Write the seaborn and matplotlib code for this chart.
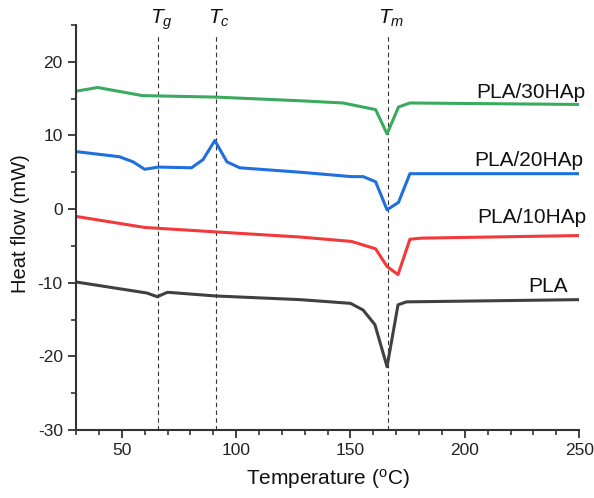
import numpy as np
import pandas as pd
import matplotlib
matplotlib.use("Agg")
import matplotlib.pyplot as plt
import seaborn as sns

# ---- data ----
pla_x = [30, 61, 65.5, 70, 91, 128, 150, 155.5, 160.7, 166, 170.8, 174.5, 200, 250]
pla_y = [-9.9, -11.4, -11.9, -11.3, -11.8, -12.3, -12.8, -13.7, -15.7, -21.4, -13.0, -12.6, -12.5, -12.3]

p10_x = [30, 60, 91, 128, 150.5, 161, 166, 170.8, 176, 181, 250]
p10_y = [-1.0, -2.5, -3.1, -3.8, -4.4, -5.4, -7.8, -8.9, -4.1, -3.95, -3.6]

p20_x = [30, 49, 55, 60, 66, 80.5, 85.5, 90.7, 96, 101.6, 128, 150.5, 155.6, 161, 166, 171, 176, 250]
p20_y = [7.8, 7.1, 6.4, 5.4, 5.7, 5.6, 6.7, 9.3, 6.4, 5.6, 5.0, 4.4, 4.4, 3.7, -0.1, 0.9, 4.8, 4.8]

p30_x = [30, 39.5, 59, 91, 128, 146.7, 161, 166, 171, 176, 250]
p30_y = [16.0, 16.5, 15.4, 15.2, 14.7, 14.4, 13.5, 10.2, 13.85, 14.4, 14.2]

series_names = ["PLA", "PLA/10HAp", "PLA/20HAp", "PLA/30HAp"]
series_colors = ["#404040", "#f2393c", "#1f6fde", "#3aaa5e"]
label_pos = [(245.0, -11.2), (253.0, -1.9), (251.7, 5.87), (252.8, 15.07)]

transitions = [66, 91, 166.5]
transition_labels = ["$T_g$", "$T_c$", "$T_m$"]

frames = []
for name, xs, ys in zip(series_names, [pla_x, p10_x, p20_x, p30_x], [pla_y, p10_y, p20_y, p30_y]):
    frames.append(pd.DataFrame({"Temperature": xs, "Heat": ys, "Sample": name}))
df = pd.concat(frames, ignore_index=True)

# ---- style ----
sns.set_theme(style="ticks")
plt.rcParams["font.family"] = ["Liberation Sans", "DejaVu Sans"]
plt.rcParams["mathtext.fontset"] = "custom"
plt.rcParams["mathtext.rm"] = "Liberation Sans"
plt.rcParams["mathtext.it"] = "Liberation Sans:italic"
plt.rcParams["axes.unicode_minus"] = False

fig = plt.figure(figsize=(5.94, 4.98), dpi=100)
ax = fig.add_axes([0.128, 0.1365, 0.847, 0.8135])

sns.lineplot(data=df, x="Temperature", y="Heat", hue="Sample", palette=dict(zip(series_names, series_colors)),
             sort=False, estimator=None, lw=2.2, legend=False, ax=ax)

for xv, lab in zip(transitions, transition_labels):
    ax.plot([xv, xv], [-30, 23.6], ls=(0, (4, 3)), color="#333333", lw=0.8, zorder=0)
    ax.text(xv + 1.5, 25.1, lab, ha="center", va="baseline", fontsize=15, color="#111111", clip_on=False)

for name, (lx, ly), c in zip(series_names, label_pos, series_colors):
    ax.text(lx, ly, name, ha="right", va="baseline", fontsize=15, color="#111111", clip_on=False)

ax.set_xlim(30, 250)
ax.set_ylim(-30, 25)
ax.set_xticks([50, 100, 150, 200, 250])
ax.set_xticks(np.arange(30, 251, 10), minor=True)
ax.set_yticks([-30, -20, -10, 0, 10, 20])
ax.set_yticks(np.arange(-30, 25.1, 5), minor=True)
ax.tick_params(axis="both", which="major", length=6, width=1.3, labelsize=12.5, colors="#333333", labelcolor="#222222", direction="out")
ax.tick_params(axis="both", which="minor", length=3.5, width=1.2, colors="#333333", direction="out")
for s in ["left", "bottom"]:
    ax.spines[s].set_linewidth(1.5)
    ax.spines[s].set_color("#333333")
sns.despine(ax=ax)

ax.set_xlabel("Temperature ($\\mathregular{^{o}}$C)", fontsize=15, color="#111111", labelpad=6)
ax.set_ylabel("Heat flow (mW)", fontsize=14.5, color="#111111", labelpad=6)
ax.yaxis.set_label_coords(-0.092, 0.51)

fig.savefig("out.png", dpi=100)
